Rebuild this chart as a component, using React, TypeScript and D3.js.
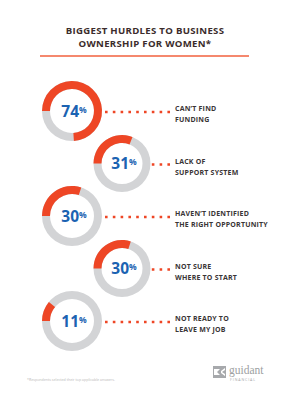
import * as d3 from 'd3';

// Survey values (percent of respondents)
const VALUES = [74, 31, 30, 30, 11];
const LABELS: string[][] = [
  ['CAN’T FIND', 'FUNDING'],
  ['LACK OF', 'SUPPORT SYSTEM'],
  ['HAVEN’T IDENTIFIED', 'THE RIGHT OPPORTUNITY'],
  ['NOT SURE', 'WHERE TO START'],
  ['NOT READY TO', 'LEAVE MY JOB'],
];
const TITLE = ['BIGGEST HURDLES TO BUSINESS', 'OWNERSHIP FOR WOMEN*'];
const FOOTNOTE = '*Respondents selected their top applicable answers.';

const WIDTH = 290;
const HEIGHT = 400;
const ORANGE = '#ee4625';
const GREY = '#d3d4d6';
const BLUE = '#1b63b2';
const DARK = '#3a3536';
const FONT = '"Open Sans", "Noto Sans", sans-serif';

export default function App() {
  const angle = d3.scaleLinear().domain([0, 100]).range([0, 2 * Math.PI]);
  const rowY = d3.scaleLinear().domain([0, VALUES.length - 1]).range([111, 321]);
  const start = -Math.PI / 2;
  const dotEnd = 170;

  return (
    <div style={{ position: 'fixed', left: 0, top: 0, background: '#fff' }}>
      <svg width={WIDTH} height={HEIGHT} style={{ display: 'block' }}>
        <rect width={WIDTH} height={HEIGHT} fill="#fff" />

        {/* Title */}
        <g fontFamily={FONT} fontWeight={700} fontSize={9.6} fill="#3b2c2c" textAnchor="middle" letterSpacing={0.3}>
          {TITLE.map((t, i) => (
            <text key={t} x={145} y={33.5 + i * 13}>{t}</text>
          ))}
        </g>
        <line x1={40} x2={249} y1={56} y2={56} stroke="#f2603e" strokeWidth={1.5} />

        {VALUES.map((v, i) => {
          const left = i % 2 === 0;
          const cx = left ? 72 : 122;
          const cy = rowY(i);
          const outer = left ? 30 : 28.5;
          const inner = outer - 8;
          const arc = d3.arc<any>().innerRadius(inner).outerRadius(outer);
          const full = arc({ startAngle: 0, endAngle: 2 * Math.PI }) as string;
          const filled = arc({ startAngle: start, endAngle: start + angle(v) }) as string;
          const dotCount = left ? 9 : 3;
          const dotLen = dotCount * 2.6 + (dotCount - 1) * 5.2;
          return (
            <g key={i}>
              <g transform={`translate(${cx},${cy})`}>
                <path d={full} fill={GREY} />
                <path d={filled} fill={ORANGE} />
                <text
                  x={2}
                  y={5.5}
                  textAnchor="middle"
                  fontFamily={FONT}
                  fontWeight={700}
                  fill={BLUE}
                >
                  <tspan fontSize={15.5}>{v}</tspan>
                  <tspan fontSize={8.5} dy={-4}>%</tspan>
                </text>
              </g>
              <line
                x1={dotEnd - dotLen}
                x2={dotEnd}
                y1={cy + 1}
                y2={cy + 1}
                stroke={ORANGE}
                strokeWidth={2.6}
                strokeDasharray="2.6,5.2"
              />
              <g fontFamily={FONT} fontWeight={700} fontSize={7} fill={DARK} letterSpacing={0.2}>
                {LABELS[i].map((l, j) => (
                  <text key={l} x={175} y={cy + j * 11}>{l}</text>
                ))}
              </g>
            </g>
          );
        })}

        {/* Footnote */}
        <text x={27} y={381} fontFamily={FONT} fontSize={3.6} fill="#b8b8b8">{FOOTNOTE}</text>

        {/* Logo */}
        <g transform="translate(213,366)" fill="#a7a9ac">
          <rect x={0} y={0} width={13} height={12} />
          <path d="M1,3 L7,3 L4,6 L7,9 L1,9 Z M8,5 L12,2 L12,4 L9,6 L12,8 L12,10 L8,7 Z" fill="#fff" />
          <text x={16} y={8} fontFamily='"Liberation Serif", serif' fontSize={11.5} fill="#9d9fa2">guidant</text>
          <text x={17} y={14.5} fontFamily={FONT} fontSize={3.6} letterSpacing={0.9} fill="#a7a9ac">FINANCIAL</text>
        </g>
      </svg>
    </div>
  );
}
